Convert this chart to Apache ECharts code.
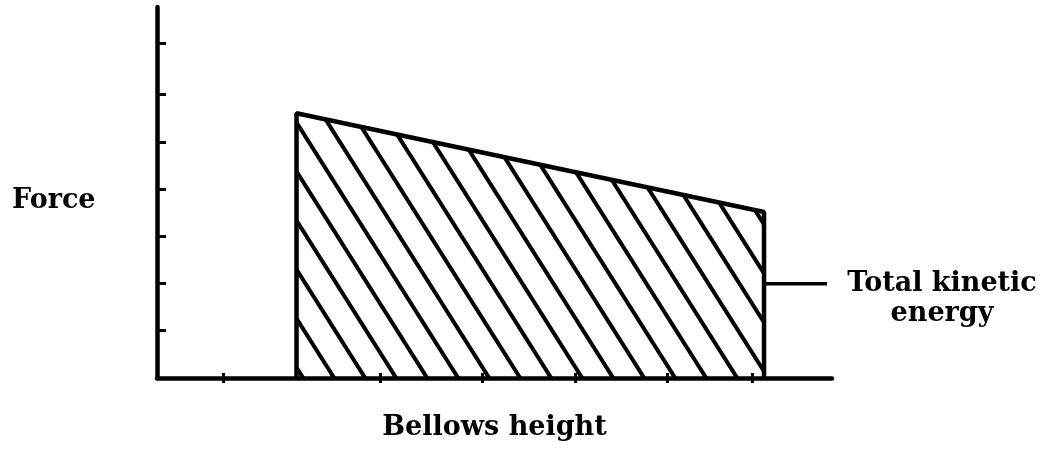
<!DOCTYPE html>
<html>
<head>
<meta charset="utf-8">
<script src="https://cdn.jsdelivr.net/npm/echarts@6/dist/echarts.min.js"></script>
<style>
  html, body { margin: 0; padding: 0; background: #fff; }
  #chart { width: 1043px; height: 451px; }
</style>
</head>
<body>
<div id="chart"></div>
<script>
// outline of the hatched area (bellows height vs force)
var areaX = [20.67, 20.67, 89.93, 89.93];
var areaY = [0, 5.71, 3.58, 0];

// leader line to the "Total kinetic energy" note
var leaderX = [89.93, 99.26];
var leaderY = [2.03, 2.03];

// hand-drawn tick marks
var xTicks = [9.78, 33.04, 48.15, 61.93, 75.56, 88.15];
var yTicks = [1.035, 2.05, 3.06, 4.08, 5.09, 6.12, 7.22];

var xName = 'Bellows height';
var yName = 'Force';
var noteText = 'Total kinetic\nenergy';

// diagonal hatch tile
function hatchTile() {
    var w = 31, h = 49, off = 2;
    var c = document.createElement('canvas');
    c.width = w; c.height = h;
    var ctx = c.getContext('2d');
    ctx.strokeStyle = '#000';
    ctx.lineWidth = 4;
    for (var k = -1; k <= 1; k++) {
        var x0 = off + w * k;
        ctx.beginPath();
        ctx.moveTo(x0 - w / h * 6, -6);
        ctx.lineTo(x0 + w + w / h * 6, h + 6);
        ctx.stroke();
    }
    return c;
}

function pairs(xs, ys) {
    return xs.map(function (x, i) { return [x, ys[i]]; });
}

var nameFont = {
    fontFamily: 'DejaVu Serif',
    fontWeight: 'bold',
    fontSize: 27,
    color: '#000'
};

var chart = echarts.init(document.getElementById('chart'));

chart.setOption({
    animation: false,
    backgroundColor: '#fff',
    title: {
        text: yName,
        left: 12,
        top: 187,
        padding: 0,
        textStyle: nameFont
    },
    grid: { left: 157, right: 211, top: 7, bottom: 73 },
    xAxis: [{
        type: 'value',
        min: 0,
        max: 100,
        axisLine: { lineStyle: { color: '#000', width: 4.5 } },
        axisTick: { show: true, customValues: xTicks, length: 5, lineStyle: { color: '#000', width: 3 } },
        axisLabel: { show: false },
        splitLine: { show: false },
        name: xName,
        nameLocation: 'middle',
        nameGap: 36,
        nameTextStyle: nameFont
    }, {
        type: 'value',
        min: 0,
        max: 100,
        position: 'bottom',
        axisLine: { show: false },
        axisTick: { show: true, inside: true, customValues: xTicks, length: 5, lineStyle: { color: '#000', width: 3 } },
        axisLabel: { show: false },
        splitLine: { show: false }
    }],
    yAxis: {
        type: 'value',
        min: 0,
        max: 8,
        axisLine: { show: true, lineStyle: { color: '#000', width: 4.5 } },
        axisTick: { show: true, inside: true, customValues: yTicks, length: 9, lineStyle: { color: '#000', width: 3 } },
        axisLabel: { show: false },
        splitLine: { show: false }
    },
    series: [{
        type: 'line',
        data: pairs(areaX, areaY),
        symbol: 'none',
        lineStyle: { color: '#000', width: 4.5 },
        areaStyle: { color: { image: hatchTile(), repeat: 'repeat' }, opacity: 1 }
    }, {
        type: 'line',
        data: pairs(leaderX, leaderY),
        symbol: 'none',
        lineStyle: { color: '#000', width: 3.5 },
        endLabel: {
            show: true,
            formatter: noteText,
            distance: 115,
            align: 'center',
            verticalAlign: 'middle',
            lineHeight: 30,
            offset: [0, 15],
            fontFamily: 'DejaVu Serif',
            fontWeight: 'bold',
            fontSize: 27,
            color: '#000'
        }
    }]
});
</script>
</body>
</html>
